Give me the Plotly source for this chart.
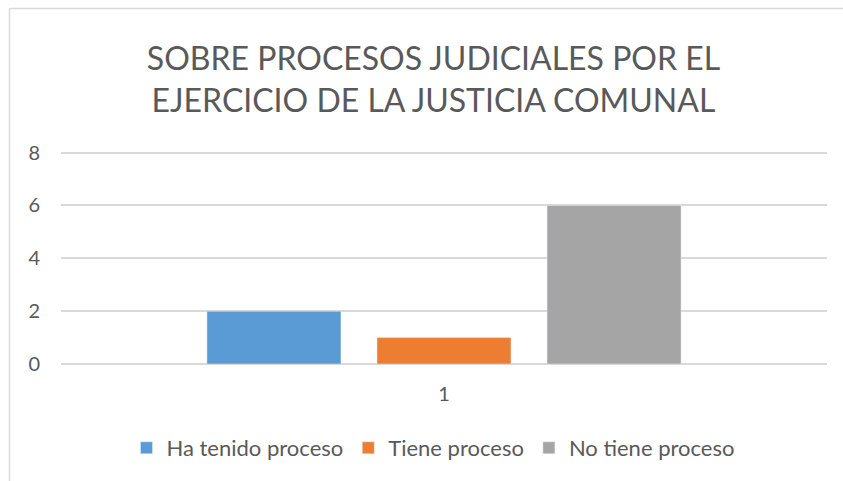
import plotly.graph_objects as go

categories = ["1"]
series_names = ["Ha tenido proceso", "Tiene proceso", "No tiene proceso"]
series_values = [[2], [1], [6]]
series_colors = ["#5b9bd5", "#ed7d31", "#a5a5a5"]

W, H = 843, 481
L, R, T, B = 61, 16, 150, 117
pw, ph = W - L - R, H - T - B


def px_x(x):
    return (x - L) / pw


def px_y(y):
    return (H - B - y) / ph


fig = go.Figure()
for name, vals, col in zip(series_names, series_values, series_colors):
    fig.add_trace(go.Bar(x=categories, y=vals, name=name, marker_color=col))

fig.update_layout(
    width=W, height=H,
    margin=dict(l=L, r=R, t=T, b=B),
    paper_bgcolor="white", plot_bgcolor="white",
    font=dict(family="Lato", color="#595959", size=20),
    barmode="group", bargap=0.334, bargroupgap=0.212,
    title=dict(
        text="SOBRE PROCESOS JUDICIALES POR EL<br>EJERCICIO DE LA JUSTICIA COMUNAL",
        x=433.5 / W, xanchor="center", y=(H - 70) / H, yanchor="middle",
        font=dict(family="Lato", size=32, color="#595959"),
    ),
    legend=dict(
        orientation="h", x=px_x(433), xanchor="center",
        y=px_y(448), yanchor="middle",
        font=dict(size=22, color="#595959"),
        itemwidth=30,
    ),
    showlegend=True,
)
fig.update_yaxes(
    range=[0, 8.1], dtick=2, showgrid=True, gridcolor="#d9d9d9", gridwidth=1.5,
    zeroline=True, zerolinecolor="#d9d9d9", zerolinewidth=1.5,
    ticks="", ticklabelstandoff=20, tickfont=dict(size=20),
)
fig.update_xaxes(
    type="category", showgrid=False, ticks="", showline=False,
    ticklabelstandoff=16, tickfont=dict(size=20),
)

# chart frame (only left and top edges are visible in the crop)
fig.add_shape(type="line", xref="paper", yref="paper",
              x0=px_x(9.5), x1=px_x(9.5), y0=px_y(8.5), y1=px_y(481),
              line=dict(color="#d9d9d9", width=1.5))
fig.add_shape(type="line", xref="paper", yref="paper",
              x0=px_x(9.5), x1=px_x(843), y0=px_y(8.5), y1=px_y(8.5),
              line=dict(color="#d9d9d9", width=1.5))

fig.write_html(
    "out.html", config={"displayModeBar": False},
    post_script="document.body.style.margin='0';"
                "document.body.style.overflow='hidden';"
                "document.documentElement.style.overflow='hidden';",
)
